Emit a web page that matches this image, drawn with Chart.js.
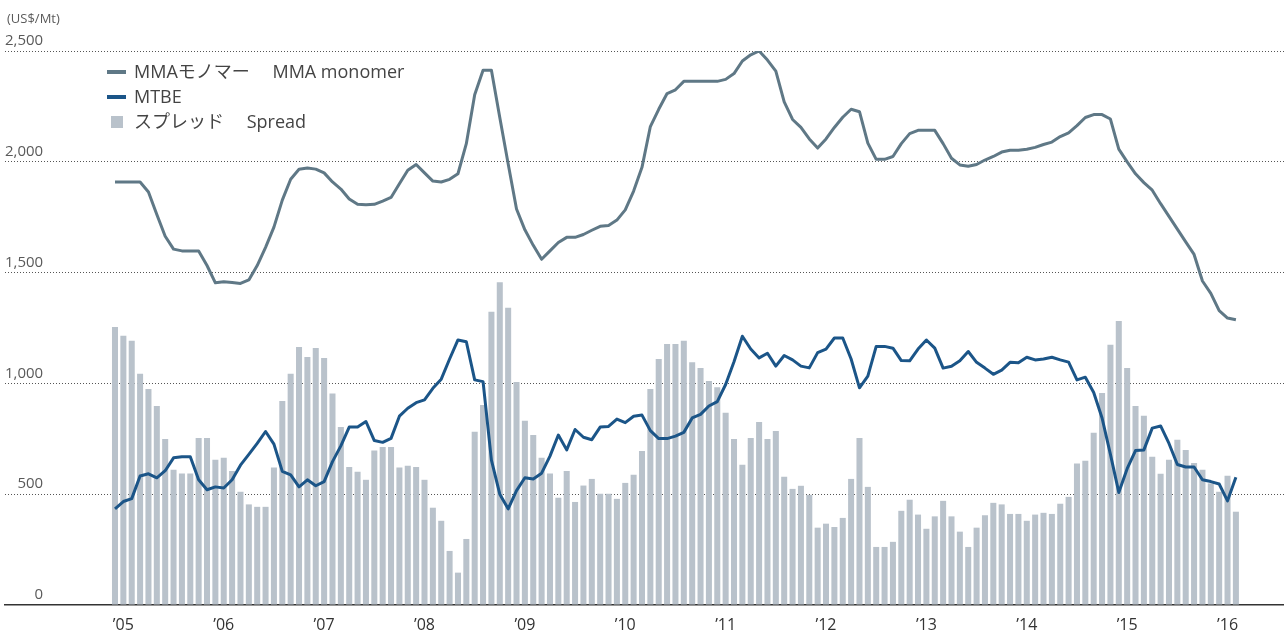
<!DOCTYPE html>
<html>
<head>
<meta charset="utf-8">
<script src="https://cdn.jsdelivr.net/npm/chart.js@4/dist/chart.umd.min.js"></script>
<style>
  html, body { margin: 0; padding: 0; background: #ffffff; }
  #wrap { position: relative; width: 1284px; height: 637px; }
  canvas { display: block; }
</style>
</head>
<body>
<div id="wrap"><canvas id="c" width="1284" height="637"></canvas></div>
<script>
// ---- Data (monthly, Dec 2004 – Feb 2016), US$/Mt ----
const startYear = 2004, startMonth = 12, monthCount = 135;
const months = [];
for (let i = 0; i < monthCount; i++) {
  const m = (startMonth - 1 + i) % 12 + 1;
  const y = startYear + Math.floor((startMonth - 1 + i) / 12);
  months.push(y + '-' + String(m).padStart(2, '0'));
}

const mmaMonomer = [
  1909,1909,1909,1909,1864,1762,1664,1606,1598,1598,1598,1532,1454,1459,1455,1451,1467,1532,1614,1705,
  1827,1921,1966,1972,1967,1950,1909,1877,1832,1808,1806,1808,1823,1839,1901,1962,1988,1950,1913,1909,
  1921,1946,2082,2303,2413,2413,2200,1991,1787,1693,1623,1560,1598,1636,1659,1659,1672,1691,1709,1713,
  1737,1783,1868,1975,2159,2237,2308,2325,2363,2363,2363,2363,2363,2372,2398,2455,2483,2500,2459,2409,
  2270,2191,2155,2103,2062,2103,2155,2201,2237,2226,2084,2011,2011,2024,2082,2127,2142,2142,2142,2082,
  2016,1986,1980,1988,2008,2024,2044,2052,2052,2057,2065,2078,2089,2114,2131,2163,2200,2213,2213,2193,
  2057,2000,1946,1906,1872,1811,1754,1696,1639,1582,1462,1406,1328,1295,1287
];

const mtbe = [
  434,467,480,582,592,574,606,664,669,669,565,520,533,528,565,631,680,729,783,726,
  603,587,533,565,538,557,647,718,803,803,828,742,734,752,852,888,913,926,978,1019,
  1110,1196,1188,1016,1008,654,500,434,516,574,569,595,672,767,700,792,757,746,803,806,
  839,823,852,857,787,751,751,762,779,844,860,898,918,995,1098,1213,1155,1115,1136,1078,
  1126,1106,1078,1070,1139,1155,1205,1205,1110,980,1033,1167,1167,1159,1103,1102,1155,1196,1159,1069,
  1077,1102,1144,1095,1069,1041,1060,1095,1093,1118,1106,1110,1118,1106,1096,1016,1028,959,844,680,
  508,615,697,700,798,808,729,634,623,623,565,557,546,470,577
];

const spread = [
  1254,1215,1192,1044,975,898,749,610,593,593,754,754,656,664,605,511,454,443,443,620,
  921,1044,1164,1119,1160,1115,954,803,623,601,565,697,713,713,620,628,623,565,439,380,
  244,146,298,782,903,1323,1457,1341,1006,831,767,664,593,484,605,465,539,569,502,502,
  479,551,588,695,975,1110,1178,1178,1192,1096,1070,1011,983,867,749,633,754,826,749,785,
  579,524,538,497,349,367,352,393,569,754,533,262,262,285,425,475,408,344,400,470,
  400,331,262,349,405,461,454,411,411,380,408,416,411,457,488,638,651,777,957,1174,
  1282,1070,898,854,669,592,656,746,700,641,610,549,511,583,421
];

const yearLabels = ['\u201905','\u201906','\u201907','\u201908','\u201909','\u201910',
                    '\u201911','\u201912','\u201913','\u201914','\u201915','\u201916'];
const yearTickIndex = yearLabels.map((_, j) => months.indexOf((2005 + j) + '-01'));

const seriesLabels = ['MMAモノマー\u3000 MMA monomer', 'MTBE', 'スプレッド\u3000 Spread'];
const yTickValues = [0, 500, 1000, 1500, 2000, 2500];
const unitLabel = '(US$/Mt)';

const COLORS = { mma: '#5f7886', mtbe: '#1b5588', spread: '#b9c2cb', text: '#444444', tick: '#5a5a5a' };
const FONT = "'Open Sans', 'Noto Sans CJK JP', sans-serif";

const toPoints = arr => arr.map((v, i) => ({ x: i, y: v }));

// Legend + unit label drawn on the canvas
const overlayPlugin = {
  id: 'overlay',
  afterDraw(chart) {
    const ctx = chart.ctx;
    ctx.save();
    ctx.fillStyle = COLORS.tick;
    ctx.font = '13px ' + FONT;
    ctx.textBaseline = 'middle';
    ctx.textAlign = 'left';
    ctx.fillText(unitLabel, 7, 19);

    const rows = [72, 97, 122];
    const ds = chart.data.datasets;
    ctx.font = '18px ' + FONT;
    ds.forEach((d, i) => {
      const y = rows[i];
      if (d.type === 'line') {
        ctx.strokeStyle = d.borderColor;
        ctx.lineWidth = 4;
        ctx.lineCap = 'butt';
        ctx.beginPath();
        ctx.moveTo(107, y);
        ctx.lineTo(126, y);
        ctx.stroke();
      } else {
        ctx.fillStyle = d.backgroundColor;
        ctx.fillRect(111, y - 6, 12, 12);
      }
      ctx.fillStyle = COLORS.text;
      ctx.fillText(d.label, 134, y + 1);
    });
    ctx.restore();
  }
};

new Chart(document.getElementById('c'), {
  data: {
    datasets: [
      { type: 'line', label: seriesLabels[0], data: toPoints(mmaMonomer), borderColor: COLORS.mma,
        borderWidth: 3, pointRadius: 0, tension: 0, borderJoinStyle: 'round', order: 1 },
      { type: 'line', label: seriesLabels[1], data: toPoints(mtbe), borderColor: COLORS.mtbe,
        borderWidth: 3, pointRadius: 0, tension: 0, borderJoinStyle: 'round', order: 0 },
      { type: 'bar', label: seriesLabels[2], data: toPoints(spread), backgroundColor: COLORS.spread,
        borderWidth: 0, barPercentage: 0.72, categoryPercentage: 1, order: 2 }
    ]
  },
  options: {
    responsive: false,
    animation: false,
    devicePixelRatio: 1,
    layout: { padding: { left: 5, right: 0, top: 51, bottom: 0 } },
    plugins: { legend: { display: false }, tooltip: { enabled: false } },
    scales: {
      x: {
        type: 'linear',
        offset: false,
        min: -13.15,
        max: 139.75,
        grid: { display: false, drawTicks: false },
        border: { display: true, color: '#333333', width: 1.5 },
        afterBuildTicks: scale => { scale.ticks = yearTickIndex.map(v => ({ value: v })); },
        afterFit: scale => { scale.height = 32; },
        ticks: {
          autoSkip: false,
          maxRotation: 0,
          padding: 11,
          color: '#333333',
          font: { family: FONT, size: 16 },
          callback: (value, index) => yearLabels[index]
        }
      },
      y: {
        min: 0,
        max: 2500,
        afterBuildTicks: scale => { scale.ticks = yTickValues.map(v => ({ value: v })); },
        grid: {
          drawTicks: false,
          color: c => (c.tick && c.tick.value === 0) ? 'rgba(0,0,0,0)' : '#555555',
          lineWidth: 1
        },
        border: { display: false, dash: [1, 2] },
        ticks: {
          mirror: true,
          crossAlign: 'far',
          padding: 0,
          labelOffset: -10,
          color: COLORS.tick,
          font: { family: FONT, size: 15 },
          callback: v => v.toLocaleString('en-US')
        }
      }
    }
  },
  plugins: [overlayPlugin]
});
</script>
</body>
</html>
